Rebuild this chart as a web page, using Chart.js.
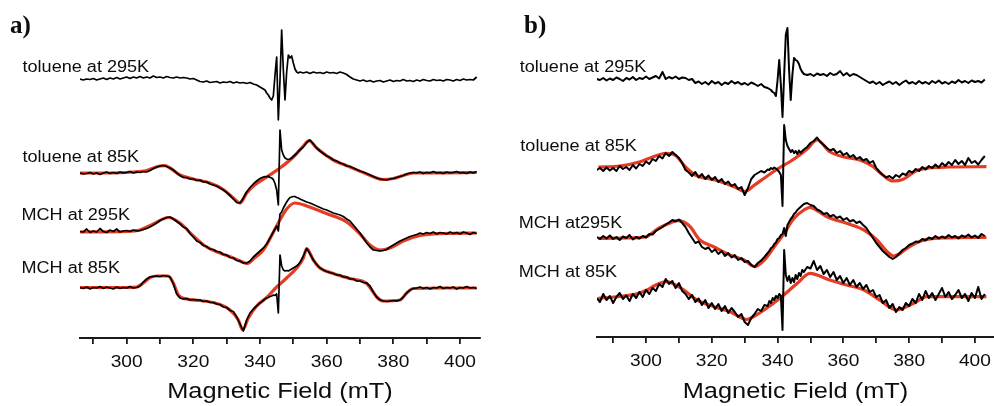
<!DOCTYPE html>
<html>
<head>
<meta charset="utf-8">
<script src="https://cdn.jsdelivr.net/npm/chart.js@4.4.1/dist/chart.umd.min.js"></script>
<style>
html, body { margin: 0; padding: 0; background: #fff; }
#wrap { position: relative; width: 994px; height: 406px; overflow: hidden; }
canvas { position: absolute; top: 0; }
</style>
</head>
<body>
<div id="wrap">
  <canvas id="chartA" width="497" height="406" style="left:0"></canvas>
  <canvas id="chartB" width="497" height="406" style="left:497px"></canvas>
</div>
<script>
// magnetic field grid (mT) of the measured spectra, finer around the sharp line
const fieldA = [
  286,287,288,289,290,291,292,293,294,295,
  296,297,298,299,300,301,302,303,304,305,
  306,307,308,309,310,311,312,313,314,315,
  316,317,318,319,320,321,322,323,324,325,
  326,327,328,329,330,331,332,333,334,335,
  336,337,338,339,340,341,
  341.5,342,342.5,343,343.5,344,344.5,345,345.5,346,346.5,347,347.5,348,348.5,349,349.5,350,350.5,351,351.5,352,
  353,354,355,356,357,358,359,360,361,362,
  363,364,365,366,367,368,369,370,371,372,
  373,374,375,376,377,378,379,380,381,382,
  383,384,385,386,387,388,389,390,391,392,
  393,394,395,396,397,398,399,400,401,402,
  403,404,405
];
const fieldB = [
  285,286,287,288,289,290,291,292,293,294,
  295,296,297,298,299,300,301,302,303,304,
  305,306,307,308,309,310,311,312,313,314,
  315,316,317,318,319,320,321,322,323,324,
  325,326,327,328,329,330,331,332,333,334,
  335,336,337,
  337.5,338,338.5,339,339.5,340,340.5,341,341.5,342,342.5,343,343.5,344,344.5,345,345.5,346,346.5,347,347.5,348,
  349,350,351,352,353,354,355,356,357,358,
  359,360,361,362,363,364,365,366,367,368,
  369,370,371,372,373,374,375,376,377,378,
  379,380,381,382,383,384,385,386,387,388,
  389,390,391,392,393,394,395,396,397,398,
  399,400,401,402,403
];

// panel a) measured EPR signal (a.u.)
const tolRtA = [
  1,0,1,0.5,1.5,0,1,2,0.5,2, 1,2.5,1,2,3,1.5,3,2,3.5,2, 3,2,4,2.5,3,2,3.5,2.5,2,3,
  2,2.5,2,1,1.5,0,-1.5,-2,-1,-2.5, -2,-1.5,-3,-2,-2.5,-1.5,-3,-2,-3,-2.5, -3.5,-2.5,-4,-5,-7,-9,
  -10,-13,-15,-18,-20,-16,5,23,-40,0,50,10,-20,8,25,22,24,17,11,8,7,8,
  7,8,6.5,8,7,7.5,6.5,8,7,7.5, 6.5,8,7,5.5,3,1,0,-1,0,-1.5, -0.5,-2,-1,-0.5,-2,-1,0,-1.5,-0.5,-1,
  0.5,-1,-0.5,-1.5,0,-1,0.5,-0.5,-1,0.5, -0.5,0,-1,0.5,0,-1,0.5,-0.5,1,0, 0.5,0,3
];
const tol85A = [
  0,-1,-0.5,0.5,-1,0,-1.5,0,1,-0.5, 0.5,-0.5,1,0,0.5,1.5,0,1,0.5,1.5, 1,2.5,4.5,6,7,7.5,6.5,5,3,0,
  -2.5,-4.5,-4.5,-6,-6,-7.5,-7,-9,-9,-11, -12,-13,-15,-17,-19.5,-22.5,-26,-29.5,-30,-25, -19,-14.5,-11,-8,-5.5,-4,
  -3.5,-4,-3,-4.5,-5,-6.5,-10.5,-17,-32,43,23,18,15,14,13.5,14,15,16.5,18,19.5,21.5,23,
  26,30.5,33,29,25,22,19.5,17,15.5,13, 12,10,9,7,6.5,5,3.5,2,1,-0.5, -2,-3.5,-5,-6,-6.5,-7,-6,-5.5,-4.5,-3.5,
  -2.5,-1,0,0.5,0,1,-0.5,0.5,0,1.5, 0,0.5,-0.5,1,0,0.5,1.5,0,0.5,-0.5, 1,0,1.5
];
const mchRtA = [
  0.5,0,3,-0.5,1,0,3.5,0.5,-0.5,2, 0.5,3,0,1,1.5,0.5,2,1,1.5,2.5, 3.5,5,7,9,11.5,13,14.5,15,13,10.5,
  8,5,3.5,-1.5,-5,-9,-10.5,-13.5,-14.5,-17, -17.5,-19.5,-20,-22.5,-23,-25.5,-26,-28.5,-29,-31, -31,-29,-25,-22,-19,-16,
  -14,-12,-9,-6,-3,0,3,6,1,18,20,24,27,30,32.5,34.5,35,35.5,35.5,34.5,34,33,
  31.5,30,29,27.5,26,24.5,23,22,20.5,19, 18,17,15.5,13,11,7,3,-1,-6,-11, -15,-18,-18.5,-19,-18.5,-17.5,-15,-13,-11,-9,
  -7.5,-6,-4.5,-3.5,-2.5,-1,-2,-0.5,-1.5,0, -2,-0.5,-1,-2,0,-1.5,-0.5,-2,0,-1, -2.5,-0.5,-1.5
];
const mch85A = [
  0.5,-0.5,1,-1,0.5,0,1.5,-0.5,1,0, -1,1,-0.5,0.5,0,1.5,0,0.5,2,6, 9,11,11.5,12,11.5,12.5,12,11,4,-6,
  -10,-11,-10.5,-12,-11.5,-12,-12,-13.5,-13,-14.5, -14.5,-16,-16.5,-19,-19.5,-22.5,-23.5,-29,-36,-43, -32,-25,-21,-18,-15,-12.5,
  -11,-10,-9.5,-8.5,-8,-7,-7.5,-6,-25,33,22,18,17,17.5,17,18,19,20,21,22,23.5,25.5,
  32,39.5,34,28,23.5,20,18,16.5,15.5,14.5, 13,13,11,11,9,9,7,7,5.5,5, 2,-4,-9,-12,-13,-13.5,-13,-12.5,-13,-12,
  -9,-5,-2,-0.5,0,1,-0.5,0.5,-1,0.5, 0,1.5,-0.5,0.5,0,1,-1,0.5,0,1.5, 0,0.5,-0.5
];

// panel b) measured EPR signal (a.u.)
const tolRtB = [
  1,0,2,-0.5,1.5,0,2.5,1,-1,2, 0.5,3,0,2,1,3.5,1,2.5,4,1.5, 8,1,3,1.5,3.5,1,2.5,2,0,1,
  -3,-1.5,-4,-2,-4.5,-1,-3.5,-2,-5,-2.5, -4,-1,-3.5,-2,-4.5,-3,-5,-2.5,-4,-6, -4,-7,-8,
  -9,-10,-12,-13,-16,0,20,-5,-37,5,45,52,10,-20,5,22,20,19,16,11,8,6,
  5,6,4,6.5,5,6,4,7,5,6, 9,4.5,7,4,6,5,3,1,-1,-3, -1.5,-4,-2,-5,-3,-1.5,-4,-2,-5,-2.5,
  -0.5,-3.5,-2,-4,-1,-3.5,-2,-4,-1,-3, -0.5,-3.5,-2,-4,-1.5,-3,0,-2.5,-1,-3, -0.5,-2,-1,-2.5,0.5
];
const tol85B = [
  -3,-1,-4,-0.5,-3.5,-1,-4,1,-2,0, -3,2,-1.5,3,1,5.5,3,8,6,11, 8.5,14,11,15,12,9,4,-3,-5.5,-9,
  -5,-10.5,-7,-12,-8.5,-13,-10,-15,-12,-17, -14.5,-19,-17,-22,-20,-28,-21,-12,-8,-6, -4,-5.5,-2.5,
  -3,-1,-2,-0.5,-1.5,-3,-5,-8,-39,42,27,21,18,15,17,14,16,13,16.5,14,16,17.5,
  20,24,26,29.5,25,22,19,16.5,18,14, 16,12,14,10,12,8,10,6.5,8,4, 6,-1,-5,-8,-10.5,-9,-11.5,-8,-10,-6.5,
  -8,-4,-5.5,-2,-4,0,-2.5,1,-1,2.5, -0.5,4,1,5,2,7,3,6,2,9, 4,6,2.5,7,11
];
const mchRtB = [
  0,-2,1,-1.5,1.5,-2,0,-3,0.5,-1, 2,-2.5,0,-1.5,1,-0.5,3,2.5,6,8, 10,12.5,14.5,17,15.5,17.5,14,10,4,-1,
  -6,-4.5,-10,-12,-10.5,-15,-12.5,-17,-14,-19, -16,-20.5,-18,-23,-21,-25,-24,-28,-30,-26, -23.5,-20,-16,
  -14,-11,-10,-7,-5.5,-2,-1,2,3,9,1,12,15,18,20,23,24.5,27,28.5,30,31.5,33,
  34,32,31,27.5,26,23,24,20.5,22,19, 20.5,17,19,15.5,17,14,15.5,12,9,4, -1,-6,-10,-14,-17,-20,-22,-20,-16.5,-13,
  -11,-8,-6.5,-4.5,-5,-2,-3.5,-0.5,-2,1, -1.5,0.5,-1,2,-0.5,1,-1.5,1.5,0,2.5, -0.5,1.5,-1,3,1
];
const mch85B = [
  -1,-5,3,-3,1,-6,0,4,-2,1.5, -4,3,-1,5,0,7,3,9,6,13, 10,18,13,16,9,14,6,3,-2,2,
  -5,-1.5,-8,-3,-11,-6,-12,-7,-14,-9, -16,-11,-15,-20,-17,-25,-28,-21,-17,-12, -14,-8,-9,
  -4,-6,-1,-3,1,-1,3,1,-33,47,22,16,21,14,19,15,22,18,24,21,27,25,
  30,28.5,36,27,31,23,27,20,25,17, 21,14,19,12,17,10,14,8,12,5, 7,0,2,-6,-3,-11,-7,-15,-10,-13,
  -6,-9,-2,-6,3,-3,6,-1,4,-3, 3,9,0,5,-2,2,7,-1,3,-4, 4,-1,10,-2,3
];

// simulated spectra (red), [field mT, signal a.u.]
const fitTol85A = [[286,0],[295,0],[302,1],[306,2.5],[310,7],[311.5,7.3],[313,5],[316,-2],[320,-6],[325,-10],[329,-16.5],[332,-25],[334,-30],[336,-20],[338,-13],[342,-4],[346,5],[350,16],[353,27],[354.7,32.3],[357,25],[362,13],[367,6],[372,-1],[377,-6.5],[380,-5.5],[383,-2.5],[386,0],[395,0.2],[405,0.5]];
const fitMchRtA = [[286,0],[300,0.5],[304,2],[308,8],[312.5,14.5],[316,9],[320,-4],[324,-15],[328,-21],[332,-26],[336.4,-31.5],[338,-27],[341,-18],[345,6],[348,23],[350.5,29],[354,26],[358,21],[362,16],[366,10],[370,-2],[373,-13],[376,-18],[379,-16],[383,-9],[388,-3.5],[395,-1.5],[405,-1]];
const fitMch85A = [[286,0.5],[300,0.5],[303,1],[305,5],[307,10.5],[309,12],[312.5,12],[314,5],[315.5,-7],[318,-11],[322,-12.5],[327,-15.5],[331,-22],[333.5,-32],[334.8,-42],[336.5,-30],[339,-18],[342,-9.5],[345,1],[348,10],[351,20],[353,30],[354,39.5],[356,28],[358,20],[362,14.5],[367,9.5],[372,4.5],[373.5,-2],[375,-9],[377,-13],[382,-12],[384,-5],[386,-0.5],[395,0],[405,0]];
const fitTol85B = [[285.5,0],[292,1],[298,5],[302,10],[306,13.7],[309,11.5],[312,0],[315,-8],[321,-13],[327,-20],[330,-24.5],[333,-18],[336,-11],[340,-2],[345,8],[349,18],[352,27],[356,15],[361,9.5],[365,7],[369,0.5],[372,-8],[375,-14],[378,-12.5],[382,-4],[386,-1],[392,0],[403.5,0.3]];
const fitMchRtB = [[285.5,-1.3],[295,-1],[300,0.3],[304,9],[307.3,14],[309.4,16.3],[311.5,15],[313.4,10.3],[316.4,-3],[320.7,-10],[325.5,-18],[329.8,-23],[333.1,-29.7],[336,-23],[339,-9.7],[342,3.7],[345,18.7],[348,27],[349.8,29.7],[352,26.5],[355,20.3],[361,13.7],[366.3,7],[370.2,-3],[373.3,-14.7],[375.3,-19],[377,-17],[379.3,-11.3],[384.5,-3],[390,-1],[403.5,-0.3]];
const fitMch85B = [[285.5,-1.3],[292,0.5],[297,3],[300.3,7],[303,12],[306.4,15.3],[309,12],[311.5,7],[315.5,-3],[320.7,-9.7],[325.5,-14.7],[330.7,-22.5],[333,-19],[335.9,-13],[340.7,-1.3],[346,13.7],[349.8,23.7],[352,22],[355.9,17],[361,12],[366.3,7],[371,-3],[376.3,-13],[379,-10],[381.4,-6.3],[385.4,0.3],[392,0.3],[403.5,0.3]];

const tickMarks = [290,300,310,320,330,340,350,360,370,380,390,400];
const tickLabels = [300,320,340,360,380,400];
const namesA = ['toluene at 295K', 'toluene at 85K', 'MCH at 295K', 'MCH at 85K'];
const namesB = ['toluene at 295K', 'toluene at 85K', 'MCH at295K', 'MCH at 85K'];
const axisTitle = 'Magnetic Field (mT)';

// layout: vertical stacking offsets and label spots (px)
const offsetsA = [258, 165, 106, 50];
const offsetsB = [257, 170, 100, 40];
const labelPosA = [[22.5, 71.5], [22.5, 162], [21.5, 220], [21.5, 273]];
const labelPosB = [[22.7, 71.5], [23.3, 150.5], [21.7, 228], [21.7, 276.5]];

const RED = 'rgb(230,60,36)';

function series(field, amp, off) {
  if (field.length !== amp.length) throw new Error('length mismatch ' + field.length + ' / ' + amp.length);
  return field.map((b, i) => ({ x: b, y: off + amp[i] }));
}

function stretchText(ctx, s, x, y, font, sx, align) {
  ctx.save();
  ctx.font = font;
  ctx.textAlign = align;
  ctx.textBaseline = 'alphabetic';
  ctx.translate(x, y);
  ctx.scale(sx, 1);
  ctx.fillText(s, 0, 0);
  ctx.restore();
}

function makeChart(id, cfg) {
  const datasets = [];
  // black measured traces sit on top of the red fits
  cfg.traces.forEach((t, i) => {
    datasets.push({ data: series(cfg.field, t, cfg.offsets[i]), borderColor: '#000', borderWidth: cfg.blackWidth, order: 0 });
  });
  cfg.fits.forEach(f => {
    datasets.push({
      data: f[1].map(p => ({ x: p[0], y: cfg.offsets[f[0]] + p[1] })),
      borderColor: RED, borderWidth: 3.2, cubicInterpolationMode: 'monotone', order: 1
    });
  });

  const textPlugin = {
    id: 'panelText',
    afterDraw(chart) {
      const ctx = chart.ctx;
      const xs = chart.scales.x;
      ctx.fillStyle = '#0d0d0d';
      cfg.names.forEach((n, i) => {
        stretchText(ctx, n, cfg.labelPos[i][0], cfg.labelPos[i][1], '16px "Liberation Sans", Arial, sans-serif', 1.13, 'left');
      });
      tickLabels.forEach(v => {
        stretchText(ctx, String(v), xs.getPixelForValue(v), cfg.axisY + 29, '16.5px "Liberation Sans", Arial, sans-serif', 1.16, 'center');
      });
      const mid = (chart.chartArea.left + chart.chartArea.right) / 2;
      stretchText(ctx, axisTitle, mid, 398, '21.5px "Liberation Sans", Arial, sans-serif', 1.18, 'center');
      stretchText(ctx, cfg.letter, cfg.letterX, 33, 'bold 25px "Liberation Serif", "Times New Roman", serif', 1, 'left');
    }
  };

  return new Chart(document.getElementById(id), {
    type: 'line',
    data: { datasets },
    options: {
      responsive: false,
      animation: false,
      devicePixelRatio: 1,
      layout: { padding: cfg.padding },
      elements: { point: { radius: 0 }, line: { tension: 0, borderJoinStyle: 'round' } },
      plugins: { legend: { display: false }, tooltip: { enabled: false } },
      scales: {
        x: {
          type: 'linear', min: cfg.min, max: cfg.max,
          ticks: { display: false },
          grid: { drawOnChartArea: false, drawTicks: true, tickLength: 6, color: '#1a1a1a', lineWidth: 1.8 },
          border: { display: true, color: '#1a1a1a', width: 2 },
          afterBuildTicks: s => { s.ticks = tickMarks.map(v => ({ value: v })); },
          afterFit: s => { s.height = 406 - cfg.axisY; }
        },
        y: { display: false, min: 0, max: cfg.axisY }
      }
    },
    plugins: [textPlugin]
  });
}

makeChart('chartA', {
  field: fieldA, traces: [tolRtA, tol85A, mchRtA, mch85A],
  fits: [[1, fitTol85A], [2, fitMchRtA], [3, fitMch85A]],
  offsets: offsetsA, names: namesA, labelPos: labelPosA,
  letter: 'a)', letterX: 10, blackWidth: 1.7,
  min: 286, max: 406, axisY: 338,
  padding: { left: 80, right: 17, top: 0, bottom: 0 }
});

makeChart('chartB', {
  field: fieldB, traces: [tolRtB, tol85B, mchRtB, mch85B],
  fits: [[1, fitTol85B], [2, fitMchRtB], [3, fitMch85B]],
  offsets: offsetsB, names: namesB, labelPos: labelPosB,
  letter: 'b)', letterX: 27, blackWidth: 2,
  min: 285.1, max: 405.8, axisY: 337,
  padding: { left: 100, right: 0, top: 0, bottom: 0 }
});
</script>
</body>
</html>
